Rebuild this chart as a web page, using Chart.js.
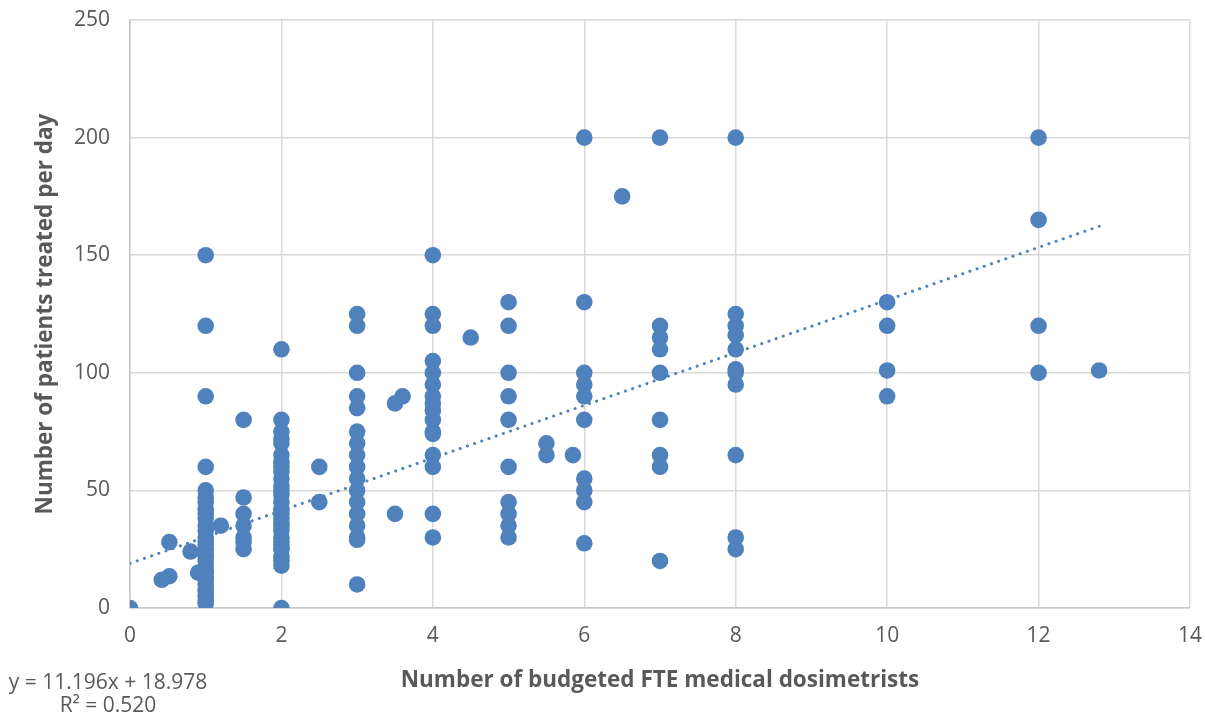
<!DOCTYPE html>
<html>
<head>
<meta charset="utf-8">
<script src="https://cdn.jsdelivr.net/npm/chart.js@4"></script>
<style>
  html, body { margin: 0; padding: 0; background: #fff; }
  #wrap { position: relative; width: 1205px; height: 721px; }
  canvas { display: block; }
</style>
</head>
<body>
<div id="wrap"><canvas id="c" width="1205" height="721"></canvas></div>
<script>
// FTE medical dosimetrists (x) and patients treated per day (y), paired
const fteValues = [
  0,
  0.42, 0.52, 0.52, 0.8, 0.9, 1.2,
  1,1,1,1,1,1,1,1,1,1,1,1,1,1,1,1,1,1,1,1,1,1,1,1,1,1,1,1,1,1,
  1.5,1.5,1.5,1.5,1.5,1.5,1.5,
  2,2,2,2,2,2,2,2,2,2,2,2,2,2,2,2,2,2,2,2,2,2,2,2,2,2,2,2,
  2.5,2.5,
  3,3,3,3,3,3,3,3,3,3,3,3,3,3,3,3,3,
  3.5,3.5,3.6,
  4,4,4,4,4,4,4,4,4,4,4,4,4,4,4,4,
  4.5,
  5,5,5,5,5,5,5,5,5,5,
  5.5,5.5,5.85,
  6,6,6,6,6,6,6,6,6,6,
  6.5,
  7,7,7,7,7,7,7,7,7,
  8,8,8,8,8,8,8,8,8,8,8,
  10,10,10,10,
  12,12,12,12,
  12.8
];
const patientValues = [
  0,
  12, 13.5, 28, 24, 15, 35,
  150,120,90,60,50,47,45,42,40,38,35,33,30,28,27,25,23,22,20,18,16,15,13,12,10,8,7,5,3,2,
  80,47,40,35,30,28,25,
  110,80,75,72,70,65,62,60,58,55,52,50,48,45,42,40,38,36,35,33,30,28,26,25,22,20,18,0,
  60,45,
  125,120,100,90,85,75,70,65,60,55,50,45,40,35,30,29,10,
  87,40,90,
  150,125,120,105,100,95,90,87,84,80,75,74,65,60,40,30,
  115,
  130,120,100,90,80,60,45,40,35,30,
  70,65,65,
  200,130,100,95,90,80,55,50,45,27.5,
  175,
  200,120,115,110,100,80,65,60,20,
  200,125,120,116,110,101.5,100,95,65,30,25,
  130,120,101,90,
  200,165,120,100,
  101
];
// Linear trendline as shown on the chart: y = 11.196x + 18.978, R² = 0.520
const trendSlope = 11.196;
const trendIntercept = 18.978;
const trendRSquared = '0.520';
const trendRange = [0, 12.8];
const xTicks = [0, 2, 4, 6, 8, 10, 12, 14];
const yTicks = [0, 50, 100, 150, 200, 250];

const points = fteValues.map((x, i) => ({ x: x, y: patientValues[i] }));
const trendPoints = trendRange.map(x => ({ x: x, y: trendSlope * x + trendIntercept }));

const BLUE = '#4F81BD';
const TXT = '#595959';
const FONT = '"Open Sans", Lato, sans-serif';

const equationPlugin = {
  id: 'equation',
  afterDraw(chart) {
    const ctx = chart.ctx;
    ctx.save();
    ctx.fillStyle = TXT;
    ctx.font = '21px ' + FONT;
    ctx.textAlign = 'center';
    ctx.textBaseline = 'middle';
    ctx.fillText('y = ' + trendSlope.toFixed(3) + 'x + ' + trendIntercept.toFixed(3), 108, 683);
    ctx.fillText('R² = ' + trendRSquared, 108, 706);
    ctx.restore();
  }
};

new Chart(document.getElementById('c'), {
  type: 'scatter',
  data: {
    datasets: [
      {
        type: 'line',
        data: trendPoints,
        borderColor: BLUE,
        borderWidth: 3,
        borderDash: [0.1, 7.5],
        borderCapStyle: 'round',
        pointRadius: 0,
        fill: false,
        showLine: true
      },
      {
        data: points,
        backgroundColor: BLUE,
        borderColor: BLUE,
        borderWidth: 0,
        pointRadius: 8.3,
        pointHoverRadius: 8.3
      }
    ]
  },
  options: {
    responsive: false,
    animation: false,
    devicePixelRatio: 1,
    layout: { padding: { left: 0, right: 15, top: 20, bottom: 0 } },
    plugins: { legend: { display: false }, tooltip: { enabled: false } },
    scales: {
      x: {
        type: 'linear',
        min: 0, max: 14,
        afterBuildTicks(scale) { scale.ticks = xTicks.map(v => ({ value: v })); },
        afterFit(scale) { scale.height = 113; scale.paddingLeft = 0; scale.paddingRight = 0; },
        ticks: { color: TXT, font: { family: FONT, size: 21 }, padding: 15 },
        grid: { color: '#D9D9D9', lineWidth: 1.5, drawTicks: false },
        border: { color: '#C8C8C8', width: 1.5 },
        title: {
          display: true,
          text: 'Number of budgeted FTE medical dosimetrists',
          color: TXT,
          font: { family: FONT, size: 22.5, weight: 'bold' },
          padding: { top: 0, bottom: 27 }
        }
      },
      y: {
        type: 'linear',
        min: 0, max: 250,
        afterBuildTicks(scale) { scale.ticks = yTicks.map(v => ({ value: v })); },
        afterFit(scale) { scale.width = 130; scale.paddingTop = 0; scale.paddingBottom = 0; },
        ticks: { color: TXT, font: { family: FONT, size: 21 }, padding: 20 },
        grid: { color: '#D9D9D9', lineWidth: 1.5, drawTicks: false },
        border: { color: '#C8C8C8', width: 1.5 },
        title: {
          display: true,
          text: 'Number of patients treated per day',
          color: TXT,
          font: { family: FONT, size: 22.5, weight: 'bold' },
          padding: { top: 32, bottom: 0 }
        }
      }
    }
  },
  plugins: [equationPlugin]
});
</script>
</body>
</html>
